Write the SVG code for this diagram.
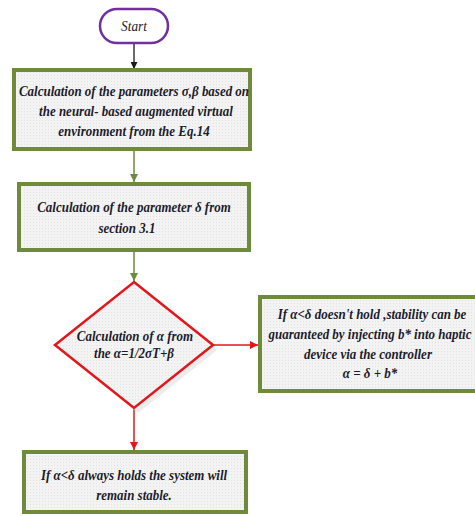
<svg xmlns="http://www.w3.org/2000/svg" width="475" height="516" viewBox="0 0 475 516">
<defs>
<pattern id="dots" width="3" height="3" patternUnits="userSpaceOnUse">
<rect width="3" height="3" fill="#f3f3f3"/>
<rect x="0" y="0" width="1" height="1" fill="#e2e2e2"/>
</pattern>
<marker id="ah-black" viewBox="0 0 10 10" refX="10" refY="5" markerWidth="7" markerHeight="7" markerUnits="userSpaceOnUse" orient="auto"><path d="M0,0 L10,5 L0,10 z" fill="#1a1a1a"/></marker>
<marker id="ah-green" viewBox="0 0 10 10" refX="10" refY="5" markerWidth="8" markerHeight="8" markerUnits="userSpaceOnUse" orient="auto"><path d="M0,0 L10,5 L0,10 z" fill="#6e8a3a"/></marker>
<marker id="ah-red" viewBox="0 0 10 10" refX="10" refY="5" markerWidth="8" markerHeight="8" markerUnits="userSpaceOnUse" orient="auto"><path d="M0,0 L10,5 L0,10 z" fill="#e3161b"/></marker>
</defs>
<style>
.box{fill:url(#dots);stroke:#6e8a3a;stroke-width:4}
.t{font-family:"Liberation Serif","Times New Roman",serif;font-style:italic;font-weight:bold;font-size:15px;fill:#1c1c2c;text-anchor:middle}
.c-black{stroke:#1a1a1a;stroke-width:1.3;fill:none}
.c-green{stroke:#6e8a3a;stroke-width:1.5;fill:none}
.c-red{stroke:#e3161b;stroke-width:1.5;fill:none}
</style>
<rect width="475" height="516" fill="#ffffff"/>

<g id="connectors">
<line class="c-black" x1="134" y1="43" x2="134" y2="69" marker-end="url(#ah-black)"/>
<line class="c-green" x1="134" y1="151" x2="134" y2="182" marker-end="url(#ah-green)"/>
<line class="c-green" x1="134" y1="252" x2="134" y2="281" marker-end="url(#ah-green)"/>
<line class="c-red" x1="213" y1="345" x2="258" y2="345" marker-end="url(#ah-red)"/>
<line class="c-red" x1="134" y1="408" x2="134" y2="450" marker-end="url(#ah-red)"/>
</g>

<g id="start">
<rect x="100" y="9" width="68" height="34" rx="17" ry="17" fill="#ffffff" stroke="#7030a0" stroke-width="2.5"/>
<text class="t" font-family="Liberation Serif, serif" transform="translate(134,31) scale(0.95,1)" style="font-weight:normal;font-size:14px">Start</text>
</g>

<g id="calc-sigma-beta">
<rect class="box" x="14" y="70" width="236" height="79"/>
<text class="t" font-family="Liberation Serif, serif" transform="translate(134,96) scale(0.865,1)">Calculation of the parameters σ,β based on</text>
<text class="t" font-family="Liberation Serif, serif" transform="translate(136,116) scale(0.865,1)">the neural- based augmented virtual</text>
<text class="t" font-family="Liberation Serif, serif" transform="translate(134,136) scale(0.865,1)">environment from the Eq.14</text>
</g>

<g id="calc-delta">
<rect class="box" x="19" y="184" width="230" height="66"/>
<text class="t" font-family="Liberation Serif, serif" transform="translate(134,212) scale(0.865,1)">Calculation of the parameter δ from</text>
<text class="t" font-family="Liberation Serif, serif" transform="translate(127,233) scale(0.865,1)">section 3.1</text>
</g>

<g id="decision">
<polygon points="138,287 217,350 138,413 59,350" fill="#e4e4e4" opacity="0.7"/>
<polygon points="134,282 213,345 134,408 55,345" fill="url(#dots)" stroke="#e3161b" stroke-width="2.5"/>
<text class="t" font-family="Liberation Serif, serif" transform="translate(135,341) scale(0.865,1)">Calculation of α from</text>
<text class="t" font-family="Liberation Serif, serif" transform="translate(134,358) scale(0.865,1)">the α=1/2σT+β</text>
</g>

<g id="inject">
<rect class="box" x="260" y="297" width="222" height="94"/>
<text class="t" font-family="Liberation Serif, serif" transform="translate(372,319) scale(0.865,1)">If  α&lt;δ doesn't hold ,stability can be</text>
<text class="t" font-family="Liberation Serif, serif" transform="translate(370,339) scale(0.865,1)">guaranteed by injecting b* into haptic</text>
<text class="t" font-family="Liberation Serif, serif" transform="translate(368,359) scale(0.865,1)">device via the controller</text>
<text class="t" font-family="Liberation Serif, serif" transform="translate(370,378) scale(0.865,1)">α = δ + b*</text>
</g>

<g id="stable">
<rect class="box" x="24" y="452" width="222" height="60"/>
<text class="t" font-family="Liberation Serif, serif" transform="translate(134,480) scale(0.865,1)">If  α&lt;δ always holds the system will</text>
<text class="t" font-family="Liberation Serif, serif" transform="translate(134,500) scale(0.865,1)">remain stable.</text>
</g>
</svg>
